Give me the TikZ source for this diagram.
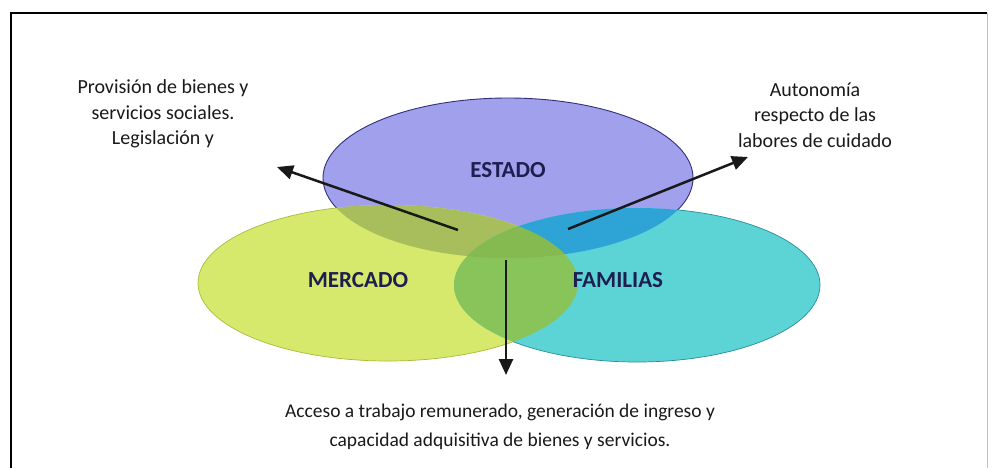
\documentclass[tikz,border=0pt]{standalone}
\usepackage{fontspec}
\setmainfont{Carlito}
\usetikzlibrary{arrows.meta}
\definecolor{cE}{HTML}{A0A0EC}
\definecolor{cM}{HTML}{D6E96C}
\definecolor{cF}{HTML}{5CD4D6}
\definecolor{cEM}{HTML}{A8BE5C}
\definecolor{cEF}{HTML}{2EA4D6}
\definecolor{cMF}{HTML}{88C45A}
\definecolor{cEMF}{HTML}{84BA50}
\definecolor{lineE}{HTML}{30307A}
\definecolor{lineM}{HTML}{A8BC3C}
\definecolor{lineF}{HTML}{2A8C9A}
\definecolor{lbl}{HTML}{1E1E50}
\definecolor{txtc}{HTML}{1A1A1A}
\def\ellE{(508,178) ellipse [x radius=185pt, y radius=80pt]}
\def\ellM{(388,283) ellipse [x radius=190pt, y radius=78pt]}
\def\ellF{(637,285) ellipse [x radius=183pt, y radius=77pt]}
\def\pagebox{(0,0) rectangle (992,468)}
\tikzset{
  body/.style={align=center, text=txtc, font=\fontsize{20}{25.5}\selectfont},
  bodywide/.style={align=center, text=txtc, font=\fontsize{19.5}{28.5}\selectfont},
  setlabel/.style={text=lbl, font=\bfseries\fontsize{23}{26}\selectfont},
  arr/.style={draw=black!90, line width=2.5pt, -{Triangle[length=16pt,width=14pt]}}
}
\begin{document}
\begin{tikzpicture}[x=1pt,y=-1pt]
\useasboundingbox \pagebox;
\fill[white] \pagebox;
% frame
\draw[line width=2pt, black] (11,468) -- (11,13) -- (987,13);
\draw[line width=1pt, black!25] (987,13) -- (987,468);
% set bases
\fill[cE] \ellE;
\fill[cM] \ellM;
\fill[cF] \ellF;
% pairwise overlaps
\begin{scope}\clip \ellE; \fill[cEM] \ellM; \end{scope}
\begin{scope}\clip \ellE; \fill[cEF] \ellF; \end{scope}
\begin{scope}\clip \ellM; \fill[cMF] \ellF; \end{scope}
\begin{scope}\clip \ellE; \clip \ellM; \fill[cEMF] \ellF; \end{scope}
% outlines, only on the outer arcs
\begin{scope}[even odd rule]
  \clip \pagebox \ellM;
  \clip \pagebox \ellF;
  \draw[lineE, line width=0.9pt] \ellE;
\end{scope}
\begin{scope}[even odd rule]
  \clip \pagebox \ellE;
  \clip \pagebox \ellF;
  \draw[lineM, line width=0.7pt] \ellM;
\end{scope}
\begin{scope}[even odd rule]
  \clip \pagebox \ellE;
  \clip \pagebox \ellM;
  \draw[lineF, line width=0.7pt] \ellF;
\end{scope}
% labels
\node[setlabel] (estado) at (508,170) {ESTADO};
\node[setlabel] (mercado) at (358,280) {MERCADO};
\node[setlabel] (familias) at (618,280) {FAMILIAS};
% texts
\node[body] (lefttxt) at (163,114) {Provisión de bienes y\\servicios sociales.\\Legislación y};
\node[body] (righttxt) at (815,115) {Autonomía\\respecto de las\\labores de cuidado};
\node[bodywide] (bottomtxt) at (500,427) {Acceso a trabajo remunerado, generación de ingreso y\\capacidad adquisitiva de bienes y servicios.};
% arrows
\coordinate (lS) at (458,230);
\coordinate (lT) at (277,167);
\coordinate (rS) at (568,229);
\coordinate (rT) at (748,157);
\coordinate (dS) at (506,260);
\coordinate (dT) at (506,375);
\draw[arr] (lS) -- (lT);
\draw[arr] (rS) -- (rT);
\draw[arr] (dS) -- (dT);
\end{tikzpicture}
\end{document}
